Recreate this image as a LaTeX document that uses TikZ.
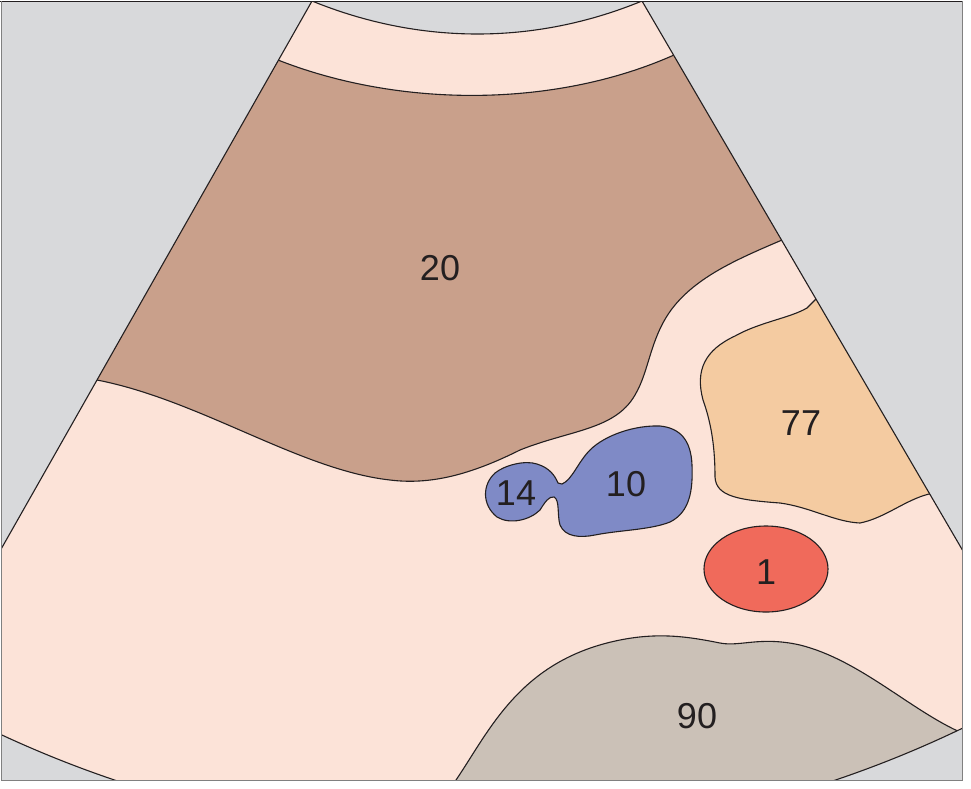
\documentclass[tikz,border=0pt]{standalone}
\usepackage{fontspec}
\setmainfont{Liberation Sans}
\definecolor{bgg}{HTML}{D8D9DB}
\definecolor{pinkf}{HTML}{FCE3D8}
\definecolor{brownr}{HTML}{C9A08B}
\definecolor{grayr}{HTML}{CBC1B7}
\definecolor{oranger}{HTML}{F4CBA1}
\definecolor{bluer}{HTML}{7F8AC6}
\definecolor{redr}{HTML}{F06A5B}
\definecolor{lin}{HTML}{231F20}
\newcommand{\labfont}{\fontsize{36}{40}\selectfont}
\begin{document}
\begin{tikzpicture}[x=1pt,y=-1pt,
  edge/.style={draw=lin,line width=1.1pt},
  lab/.style={text=lin,inner sep=0pt}]
\useasboundingbox (0,0) rectangle (971,788);
\fill[white] (0,0) rectangle (971,788);
\fill[bgg] (1,1) rectangle (962,780);
\begin{scope}
\clip (1,1) rectangle (962,780);
\clip (475,-286) circle (1125);
\clip (312,1) .. controls (420,45) and (535,45) .. (642,1) -- (1284,1101) -- (-312,1101) -- cycle;
\fill[pinkf] (0,0) rectangle (971,788);
% region 20
\path[edge,fill=brownr] (200,60) -- (278,60) .. controls (400,108) and (555,108) .. (674,55) -- (900,55) -- (900,240) -- (782,240)
  .. controls (740,258) and (700,275) .. (675,305)
  .. controls (650,335) and (650,370) .. (635,395)
  .. controls (615,430) and (570,430) .. (520,450)
  .. controls (470,475) and (430,485) .. (390,480)
  .. controls (300,470) and (200,400) .. (97,380) -- (0,375) -- cycle;
% region 90
\path[edge,fill=grayr] (440,800) -- (456,780)
  .. controls (490,730) and (520,660) .. (620,640)
  .. controls (660,632) and (690,637) .. (720,643)
  .. controls (740,647) and (760,636) .. (800,645)
  .. controls (860,660) and (910,710) .. (962,733) -- (1000,760) -- (1000,800) -- cycle;
% region 77
\path[edge,fill=oranger] (817,298) -- (807,308)
  .. controls (790,318) and (760,322) .. (735,336)
  .. controls (705,350) and (695,370) .. (703,400)
  .. controls (712,425) and (715,450) .. (715,477)
  .. controls (716,497) and (740,500) .. (780,503)
  .. controls (810,507) and (835,522) .. (860,523)
  .. controls (885,518) and (905,500) .. (929,494) -- (1000,494) -- (1000,298) -- cycle;
% region 1
\path[edge,fill=redr] (766,569) ellipse (62 and 43);
% region 10 / 14
\path[edge,fill=bluer] (558,483)
  .. controls (555,476) and (550,468) .. (537,464)
  .. controls (525,460) and (505,465) .. (495,473)
  .. controls (482,485) and (482,505) .. (497,517)
  .. controls (510,525) and (530,520) .. (540,510)
  .. controls (545,502) and (549,496) .. (554,497)
  .. controls (560,500) and (557,515) .. (560,525)
  .. controls (565,537) and (580,538) .. (595,535)
  .. controls (620,530) and (650,530) .. (670,522)
  .. controls (690,512) and (693,490) .. (692,465)
  .. controls (691,440) and (680,428) .. (660,426)
  .. controls (635,425) and (605,435) .. (590,450)
  .. controls (578,462) and (572,480) .. (562,484) -- cycle;
\end{scope}
% fan outline
\begin{scope}
\clip (1,1) rectangle (962,780);
\draw[edge] (475,-286) circle (1125);
\begin{scope}
\clip (475,-286) circle (1125);
\draw[edge] (-312,1101) -- (312,1) .. controls (420,45) and (535,45) .. (642,1) -- (1284,1101);
\end{scope}
\end{scope}
\draw[draw=lin,line width=0.8pt] (0,1) -- (962,1);
\draw[draw=gray,line width=0.8pt] (1,1) -- (1,780) -- (962,780) -- (962,1);
\node[lab] (l20) at (440,268) {\labfont 20};
\node[lab] (l77) at (801,423) {\labfont 77};
\node[lab] (l10) at (626,484) {\labfont 10};
\node[lab] (l14) at (516,493) {\labfont 14};
\node[lab] (l1) at (766,572) {\labfont 1};
\node[lab] (l90) at (697,716) {\labfont 90};
\end{tikzpicture}
\end{document}
